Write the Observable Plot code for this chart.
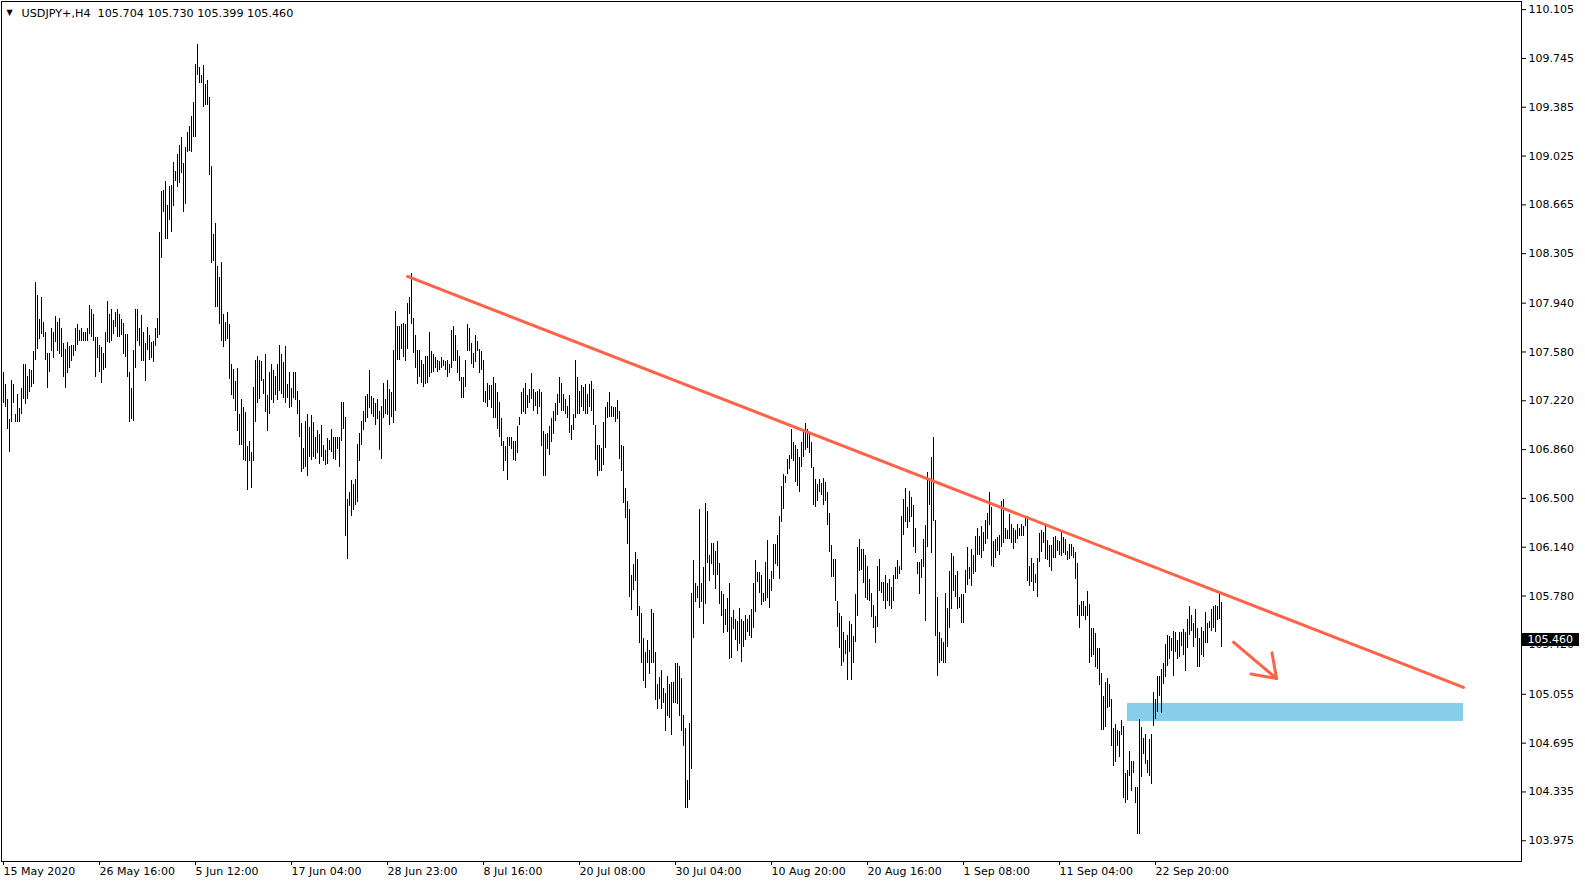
<!DOCTYPE html>
<html><head><meta charset="utf-8">
<script src="https://cdn.jsdelivr.net/npm/d3@7"></script>
<script src="https://cdn.jsdelivr.net/npm/@observablehq/plot@0.6"></script>
<style>
html,body{margin:0;padding:0;background:#fff;}
#chart svg{display:block;}
</style>
</head><body><div id="chart"></div>
<script>
const symbol = "USDJPY+,H4";
const lastBar = {open: 105.704, high: 105.730, low: 105.399, close: 105.460};

// H4 bar highs, one per bar (bar index = position)
const highs = [
107.43,107.34,107.23,107.08,107.37,107.34,107.12,107.27,107.16,107.31,
107.49,107.49,107.40,107.45,107.44,107.58,108.09,108.00,107.82,107.98,
107.80,107.72,107.57,107.57,107.75,107.72,107.84,107.80,107.83,107.75,
107.64,107.60,107.65,107.62,107.63,107.63,107.75,107.78,107.74,107.75,
107.72,107.72,107.75,107.92,107.89,107.86,107.69,107.69,107.63,107.61,
107.57,107.72,107.95,107.86,107.89,107.81,107.87,107.89,107.86,107.82,
107.79,107.71,107.71,107.43,107.31,107.59,107.89,107.89,107.75,107.85,
107.72,107.64,107.76,107.70,107.65,107.66,107.75,107.83,108.46,108.76,
108.77,108.84,108.66,108.80,108.81,108.98,108.91,109.04,109.10,109.16,
108.97,109.09,109.20,109.24,109.32,109.42,109.70,109.85,109.68,109.62,
109.69,109.55,109.58,109.46,108.95,108.45,108.53,108.21,108.13,108.24,
107.86,107.80,107.87,107.78,107.49,107.45,107.36,107.46,107.12,107.23,
107.17,107.13,106.88,106.92,106.84,107.32,107.52,107.55,107.52,107.51,
107.38,107.56,107.26,107.43,107.49,107.44,107.40,107.49,107.63,107.56,
107.50,107.62,107.34,107.43,107.31,107.43,107.43,107.29,107.22,107.05,
106.87,107.07,107.12,107.02,107.11,107.06,106.95,107.00,106.97,107.04,
106.89,106.85,106.94,106.93,107.01,106.95,106.95,106.95,106.95,107.21,
107.21,107.10,106.49,106.54,106.63,106.60,106.64,106.90,106.98,107.07,
107.14,107.25,107.27,107.44,107.25,107.24,107.20,107.23,107.14,107.18,
107.35,107.23,107.37,107.30,107.28,107.59,107.88,107.77,107.77,107.78,
107.79,107.78,107.94,107.98,108.16,107.83,107.70,107.59,107.59,107.52,
107.49,107.55,107.55,107.72,107.58,107.56,107.54,107.52,107.51,107.54,
107.52,107.51,107.52,107.49,107.74,107.77,107.70,107.59,107.55,107.39,
107.39,107.52,107.78,107.75,107.64,107.57,107.70,107.66,107.60,107.58,
107.52,107.29,107.35,107.33,107.33,107.39,107.35,107.28,107.21,107.09,
106.92,106.88,106.95,106.95,106.95,106.92,106.92,107.03,107.10,107.28,
107.31,107.35,107.26,107.30,107.42,107.30,107.28,107.29,107.30,107.28,
106.99,106.97,106.98,107.03,107.09,107.14,107.20,107.27,107.39,107.35,
107.27,107.23,107.18,107.26,107.04,107.12,107.52,107.39,107.29,107.33,
107.32,107.34,107.27,107.34,107.36,107.30,107.04,106.89,106.89,106.87,
107.06,107.17,107.21,107.28,107.18,107.17,107.17,107.22,107.14,106.89,
106.88,106.57,106.48,106.42,105.93,106.01,106.10,106.05,105.70,105.65,
105.47,105.36,105.45,105.38,105.68,105.65,105.36,105.13,105.18,105.23,
105.10,105.06,105.19,105.13,105.14,105.14,105.28,105.28,105.26,105.17,
104.90,104.80,104.42,104.84,105.80,106.04,105.87,105.85,106.42,105.87,
105.99,106.46,106.40,106.08,106.17,106.17,106.11,106.18,106.02,105.81,
105.79,105.68,105.76,105.87,105.62,105.67,105.61,105.59,105.69,105.61,
105.59,105.64,105.61,105.64,105.68,105.87,106.04,105.95,105.95,105.93,
105.80,106.03,106.19,105.90,105.96,106.16,106.16,106.23,106.37,106.59,
106.68,106.66,106.79,106.82,107.01,106.91,106.89,106.86,106.80,106.91,
107.00,107.05,107.01,106.98,106.91,106.73,106.64,106.60,106.64,106.61,
106.65,106.62,106.54,106.39,106.15,106.05,106.05,105.74,105.65,105.63,
105.51,105.45,105.49,105.59,105.57,105.48,105.79,106.14,106.20,106.12,
106.12,106.08,106.00,105.90,105.80,105.71,105.63,106.00,106.05,105.88,
105.88,105.93,105.87,105.90,105.84,105.93,105.99,106.04,106.00,106.37,
106.49,106.57,106.43,106.55,106.51,106.45,106.28,106.03,106.03,106.05,
106.20,106.30,106.69,106.65,106.80,106.95,106.34,105.77,105.51,105.47,
105.44,105.80,105.69,105.96,106.09,106.07,105.93,105.96,105.77,105.79,
105.79,105.97,106.14,105.99,106.12,106.08,106.22,106.28,106.22,106.29,
106.25,106.34,106.39,106.54,106.43,106.18,106.20,106.21,106.23,106.48,
106.49,106.28,106.26,106.38,106.31,106.28,106.26,106.31,106.28,106.31,
106.29,106.36,106.37,106.00,106.06,106.02,105.94,106.06,106.24,106.26,
106.25,106.29,106.19,106.15,106.15,106.21,106.22,106.19,106.18,106.25,
106.21,106.20,106.11,106.16,106.16,106.14,106.10,106.02,105.71,105.74,
105.74,105.70,105.81,105.72,105.54,105.54,105.50,105.39,105.39,105.21,
105.04,105.14,105.17,105.13,105.02,104.80,104.83,104.79,104.78,104.86,
104.82,104.47,104.49,104.63,104.56,104.56,104.37,104.37,104.87,104.81,
104.73,104.76,104.57,104.72,104.76,105.07,105.02,105.19,105.19,105.24,
105.28,105.42,105.49,105.48,105.47,105.52,105.51,105.45,105.51,105.51,
105.53,105.51,105.61,105.70,105.64,105.58,105.68,105.54,105.47,105.55,
105.52,105.66,105.58,105.59,105.68,105.70,105.71,105.70,105.80,105.73
];

// H4 bar lows, one per bar
const lows = [
107.20,107.17,107.01,106.84,107.06,107.20,107.06,107.06,107.06,107.12,
107.23,107.19,107.23,107.28,107.32,107.34,107.52,107.60,107.67,107.71,
107.69,107.52,107.31,107.43,107.58,107.53,107.65,107.58,107.56,107.54,
107.39,107.31,107.42,107.46,107.51,107.55,107.58,107.63,107.66,107.66,
107.66,107.66,107.66,107.71,107.69,107.66,107.39,107.53,107.43,107.35,
107.44,107.46,107.65,107.64,107.66,107.71,107.76,107.69,107.69,107.70,
107.56,107.54,107.39,107.06,107.08,107.07,107.46,107.66,107.62,107.51,
107.51,107.36,107.59,107.52,107.53,107.50,107.62,107.68,107.70,108.27,
108.61,108.41,108.41,108.55,108.46,108.65,108.84,108.79,108.82,108.90,
108.61,108.67,109.05,109.06,109.05,109.16,109.16,109.62,109.56,109.56,
109.38,109.40,109.40,108.88,108.23,108.25,107.91,107.91,107.78,107.66,
107.61,107.66,107.67,107.38,107.26,107.23,107.14,106.99,106.89,106.89,
106.78,106.77,106.56,106.77,106.57,106.77,107.06,107.20,107.23,107.36,
107.27,107.13,106.99,107.12,107.22,107.20,107.26,107.22,107.29,107.27,
107.24,107.20,107.24,107.16,107.17,107.24,107.22,107.12,106.95,106.69,
106.71,106.73,106.66,106.80,106.78,106.80,106.79,106.83,106.75,106.80,
106.77,106.74,106.75,106.85,106.84,106.79,106.78,106.86,106.73,106.92,
107.01,106.22,106.05,106.44,106.37,106.41,106.45,106.47,106.77,106.89,
107.00,107.06,107.09,107.16,107.12,107.10,107.04,107.08,106.85,106.79,
107.09,107.12,107.11,107.04,107.10,107.05,107.14,107.52,107.52,107.60,
107.54,107.51,107.60,107.86,107.78,107.57,107.46,107.34,107.39,107.35,
107.32,107.34,107.35,107.39,107.42,107.43,107.46,107.43,107.44,107.46,
107.47,107.44,107.39,107.42,107.46,107.51,107.51,107.42,107.36,107.24,
107.24,107.32,107.58,107.58,107.49,107.46,107.50,107.58,107.42,107.44,
107.21,107.20,107.17,107.22,107.16,107.09,107.09,107.01,106.95,106.88,
106.70,106.77,106.63,106.88,106.86,106.78,106.77,106.83,107.04,107.12,
107.13,107.12,107.16,107.20,107.23,107.14,107.18,107.12,107.17,106.88,
106.66,106.66,106.86,106.82,106.91,106.97,107.07,107.11,107.20,107.14,
107.14,107.12,107.09,106.98,106.93,107.00,107.09,107.12,107.12,107.17,
107.14,107.12,107.12,107.17,107.14,107.04,106.78,106.66,106.70,106.70,
106.74,106.87,107.09,107.10,107.10,107.10,107.06,107.08,106.79,106.70,
106.46,106.35,106.16,105.77,105.67,105.82,105.89,105.63,105.43,105.28,
105.15,105.10,105.28,105.20,105.28,105.28,105.01,104.94,105.02,104.94,
104.99,104.78,104.89,104.88,104.75,104.99,104.99,104.98,104.89,104.78,
104.67,104.21,104.21,104.27,104.50,105.47,105.73,105.76,105.69,105.73,
105.57,105.72,106.02,105.89,106.01,105.93,105.83,105.93,105.72,105.63,
105.50,105.56,105.51,105.31,105.32,105.53,105.45,105.37,105.42,105.29,
105.40,105.45,105.51,105.48,105.47,105.54,105.66,105.88,105.80,105.71,
105.73,105.74,105.76,105.69,105.81,105.90,106.01,106.00,105.90,106.32,
106.42,106.61,106.68,106.71,106.79,106.77,106.62,106.59,106.54,106.73,
106.80,106.85,106.87,106.83,106.72,106.45,106.43,106.48,106.54,106.52,
106.45,106.48,106.30,106.10,105.92,105.92,105.74,105.55,105.39,105.26,
105.29,105.35,105.16,105.36,105.16,105.28,105.44,105.63,105.96,105.97,
105.87,105.76,105.75,105.74,105.62,105.54,105.43,105.55,105.81,105.80,
105.74,105.68,105.74,105.70,105.68,105.74,105.90,105.90,105.94,105.97,
106.23,106.32,106.28,106.32,106.36,106.14,106.09,105.94,105.79,105.91,
105.99,105.59,106.14,106.45,106.09,106.33,105.48,105.19,105.28,105.30,
105.28,105.28,105.40,105.54,105.68,105.81,105.77,105.68,105.69,105.58,
105.58,105.80,105.86,105.90,105.85,105.94,105.95,106.08,106.08,106.06,
106.11,106.16,106.20,106.30,106.00,105.99,106.06,106.11,106.08,106.14,
106.17,106.20,106.20,106.20,106.17,106.12,106.17,106.20,106.22,106.22,
106.22,106.29,105.89,105.85,105.88,105.81,105.87,105.77,106.03,106.10,
106.17,106.05,106.04,105.99,105.96,106.06,106.06,106.11,106.08,106.07,
106.09,106.08,106.04,106.05,106.07,106.06,105.90,105.63,105.54,105.63,
105.63,105.60,105.63,105.28,105.33,105.34,105.25,105.24,105.12,104.79,
104.79,104.81,104.95,104.96,104.67,104.52,104.55,104.67,104.59,104.75,
104.29,104.25,104.27,104.45,104.34,104.47,104.25,104.02,104.02,104.44,
104.61,104.54,104.47,104.45,104.39,104.82,104.87,104.92,105.04,104.91,
105.13,105.18,105.26,105.31,105.37,105.19,105.36,105.31,105.33,105.41,
105.34,105.22,105.39,105.49,105.52,105.40,105.47,105.25,105.25,105.34,
105.33,105.43,105.43,105.54,105.52,105.54,105.51,105.60,105.61,105.40
];

const priceTicks = [110.105,109.745,109.385,109.025,108.665,108.305,107.940,107.580,107.220,106.860,106.500,106.140,105.780,105.420,105.055,104.695,104.335,103.975];
const timeLabels = ["15 May 2020","26 May 16:00","5 Jun 12:00","17 Jun 04:00","28 Jun 23:00","8 Jul 16:00","20 Jul 08:00","30 Jul 04:00","10 Aug 20:00","20 Aug 16:00","1 Sep 08:00","11 Sep 04:00","22 Sep 20:00"];
const timeLabelBars = [0,48,96,144,192,240,288,336,384,432,480,528,576];

// drawn objects (bar index, price)
const trendline = [{bar: 202, price: 108.137}, {bar: 730, price: 105.106}];
const zone = [{from: 562, to: 730, low: 104.855, high: 104.988}];
const arrowShaft = [{bar1: 614.5, price1: 105.445, bar2: 636.5, price2: 105.172}];
const arrowWings = [{bar: 636.5, price: 105.172, angle: 280}, {bar: 636.5, price: 105.172, angle: 350}];

const bars = highs.map((h, i) => ({bar: i, high: h, low: lows[i]}));
const labelMap = new Map(timeLabelBars.map((b, i) => [b, timeLabels[i]]));
const header = `${symbol}\u00a0\u00a0${[lastBar.open, lastBar.high, lastBar.low, lastBar.close].map(v => v.toFixed(3)).join(" ")}`;

function priceBox(...args) {
  const scales = args.find(a => a && typeof a.y === "function");
  const dims = args.find(a => a && a.marginRight !== undefined && a.width !== undefined);
  const y = scales.y(lastBar.close);
  const x0 = dims.width - dims.marginRight + 1;
  const g = d3.create("svg:g");
  g.append("rect").attr("x", x0).attr("y", Math.round(y) - 6).attr("width", 57).attr("height", 13).attr("fill", "#000");
  g.append("text").attr("x", x0 + 5.5).attr("y", y).attr("dy", "0.35em").attr("fill", "#fff")
    .attr("text-anchor", "start")
    .attr("font-family", "'DejaVu Sans', sans-serif").attr("font-size", 11).text(lastBar.close.toFixed(3));
  return g.node();
}

const wingShape = {draw(context, l) { context.moveTo(0, 0); context.lineTo(0, -l); }};

const chart = Plot.plot({
  width: 1585,
  height: 884,
  marginTop: 1,
  marginRight: 64,
  marginBottom: 23,
  marginLeft: 1,
  style: {fontFamily: "'DejaVu Sans', sans-serif", fontSize: "11px", color: "#000", background: "#fff", overflow: "visible"},
  x: {domain: [-1, 759], axis: null},
  y: {domain: [103.822, 110.165], axis: null},
  marks: [
    Plot.rect(zone, {x1: "from", x2: "to", y1: "low", y2: "high", fill: "#87ceeb"}),
    Plot.ruleX(bars, {x: "bar", y1: "low", y2: "high", stroke: "#000", strokeWidth: 1, shapeRendering: "crispEdges"}),
    Plot.line(trendline, {x: "bar", y: "price", stroke: "#ff6347", strokeWidth: 3}),
    Plot.link(arrowShaft, {x1: "bar1", y1: "price1", x2: "bar2", y2: "price2", stroke: "#ff6347", strokeWidth: 3}),
    Plot.vector(arrowWings, {x: "bar", y: "price", rotate: "angle", length: 26, anchor: "start", shape: wingShape, stroke: "#ff6347", strokeWidth: 3}),
    Plot.frame({stroke: "#000"}),
    Plot.axisY(priceTicks, {anchor: "right", tickSize: 4, tickPadding: 3, tickFormat: d => d.toFixed(3), label: null}),
    Plot.axisX(timeLabelBars, {anchor: "bottom", tickSize: 4, tickPadding: 2, textAnchor: "start", tickFormat: d => labelMap.get(d), label: null}),
    Plot.text(["\u25bc"], {frameAnchor: "top-left", dx: 5, dy: 8, fontSize: 8, textAnchor: "start", lineAnchor: "top"}),
    Plot.text([header], {frameAnchor: "top-left", dx: 20, dy: 8, textAnchor: "start", lineAnchor: "top", fontSize: 11.2}),
    priceBox
  ]
});
document.getElementById("chart").appendChild(chart);
</script>
</body></html>
